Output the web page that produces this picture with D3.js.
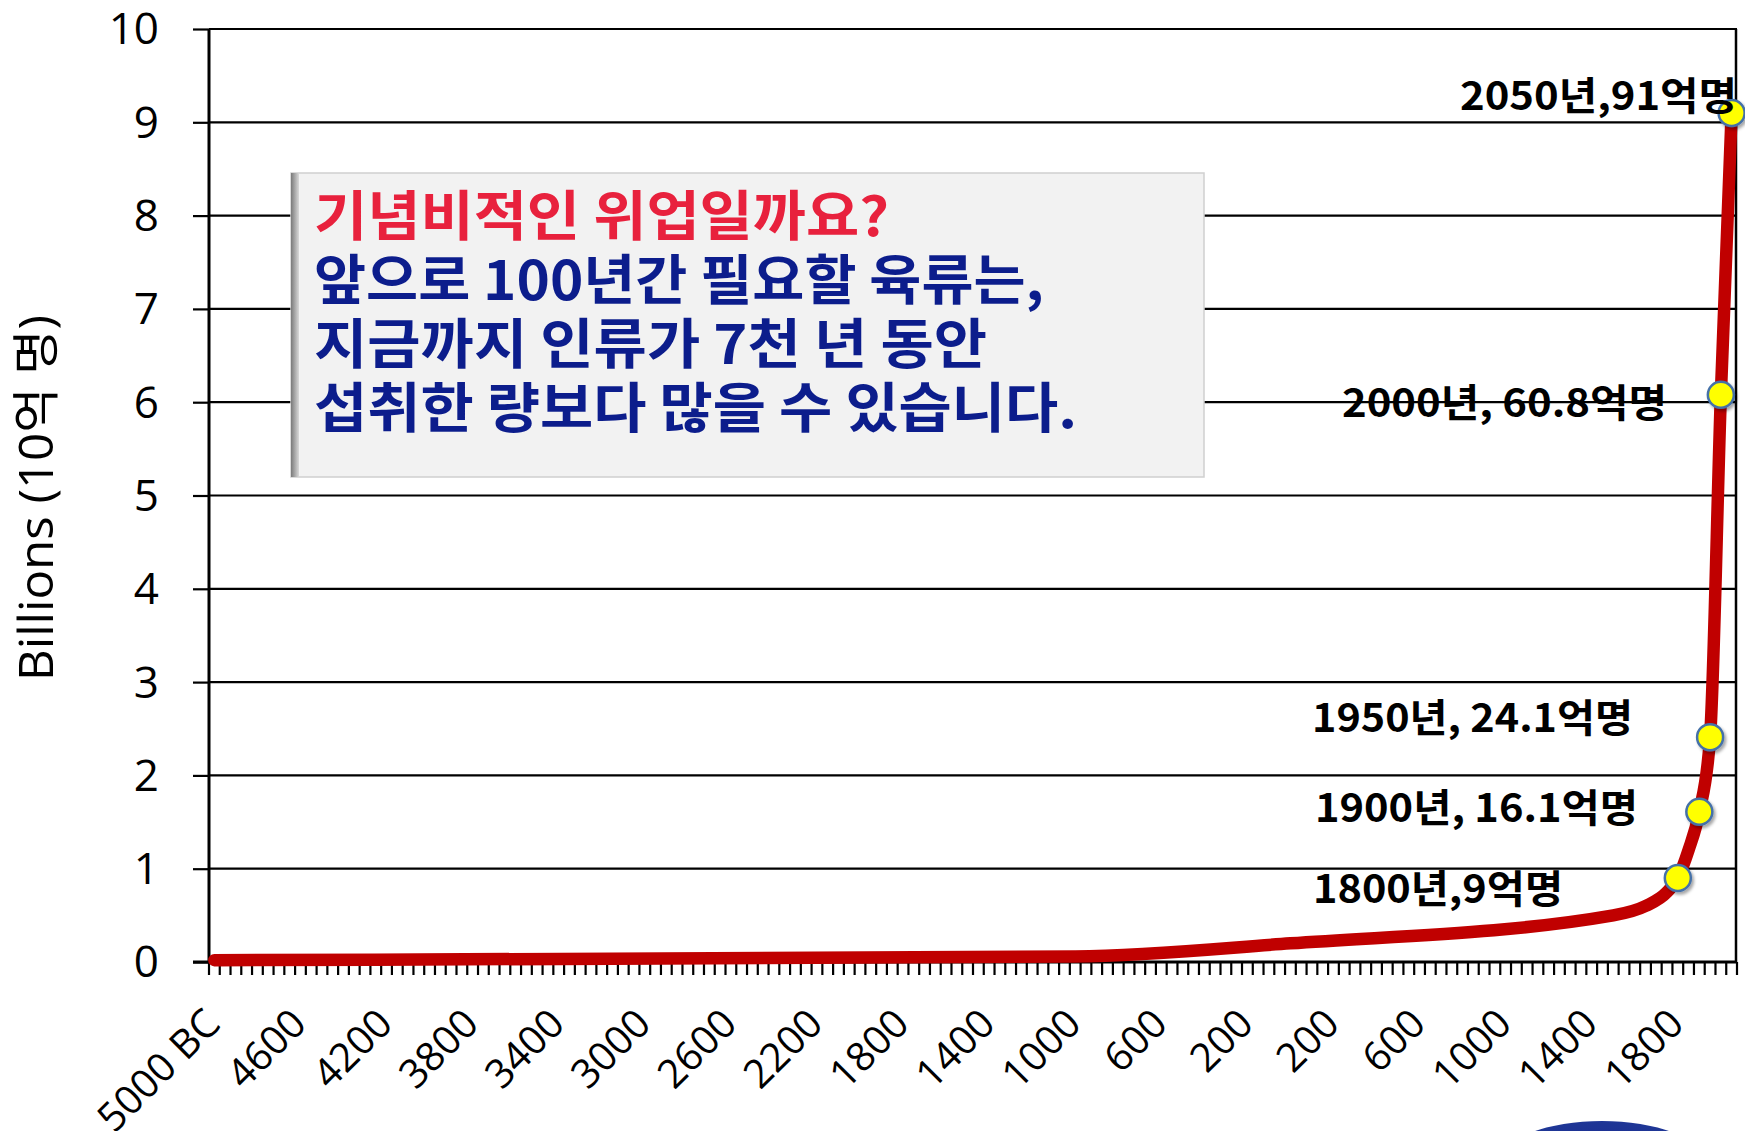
<!DOCTYPE html>
<html>
<head>
<meta charset="utf-8">
<script src="https://cdn.jsdelivr.net/npm/d3@7"></script>
<style>
  html, body { margin: 0; padding: 0; background: #ffffff; }
  svg { display: block; }
</style>
</head>
<body>
<svg id="chart" width="1745" height="1131"></svg>
<script>
// ---------- data ----------
// category axis: one category every 50 years, 5000 BC .. 2050
const categoryStart = -5000, categoryEnd = 2050, categoryStep = 50;
// labelled categories (every 400 years)
const tickYears  = [-5000,-4600,-4200,-3800,-3400,-3000,-2600,-2200,-1800,-1400,-1000,-600,-200,200,600,1000,1400,1800];
const tickLabels = ["5000 BC","4600","4200","3800","3400","3000","2600","2200","1800","1400","1000","600","200","200","600","1000","1400","1800"];
// population series (billions)
const seriesYears  = [-5000, -1000, 0,    1500, 1650, 1750, 1800, 1850, 1900, 1950, 2000, 2050];
const seriesValues = [0.02,  0.06,  0.2,  0.5,  0.6,  0.75, 0.9,  1.2,  1.61, 2.41, 6.08, 9.1];
// highlighted points
const markerYears  = [1800, 1900, 1950, 2000, 2050];
const markerValues = [0.9, 1.61, 2.41, 6.08, 9.1];
const markerLabels = ["1800년,9억명", "1900년, 16.1억명", "1950년, 24.1억명", "2000년, 60.8억명", "2050년,91억명"];
const yTicks = [0,1,2,3,4,5,6,7,8,9,10];
const yTitle = "Billions (10억 명)";
const boxTitle = "기념비적인 위업일까요?";
const boxLines = ["앞으로 100년간 필요할 육류는,", "지금까지 인류가 7천 년 동안", "섭취한 량보다 많을 수 있습니다."];

// ---------- layout ----------
const svg = d3.select("#chart");
const L = 209, R = 1737, T = 29, B = 962;
const categories = d3.range(categoryStart, categoryEnd + 1, categoryStep);
const x = d3.scaleBand().domain(categories).range([L, R]).padding(0);
const bw = x.bandwidth();
const xc = yr => x(yr) + bw / 2;
const y = d3.scaleLinear().domain([0, 10]).range([B, T]);

const latin = "'Open Sans', 'Noto Sans CJK KR', sans-serif";
const kr = "'Noto Sans CJK KR', 'Noto Sans', sans-serif";

const defs = svg.append("defs");
const sh = defs.append("filter").attr("id", "shadow").attr("x", "-50%").attr("y", "-50%").attr("width", "200%").attr("height", "200%");
sh.append("feDropShadow").attr("dx", 2).attr("dy", 2.5).attr("stdDeviation", 1.5).attr("flood-color", "#000").attr("flood-opacity", 0.35);
const lg = defs.append("linearGradient").attr("id", "leftEdge").attr("x1", "0").attr("x2", "1").attr("y1", "0").attr("y2", "0");
lg.append("stop").attr("offset", "0").attr("stop-color", "#7a7a7a");
lg.append("stop").attr("offset", "1").attr("stop-color", "#d9d9d9");
const rg = defs.append("radialGradient").attr("id", "blueBlob").attr("cx", "0.5").attr("cy", "0.3").attr("r", "0.6");
rg.append("stop").attr("offset", "0").attr("stop-color", "#1c2f93");
rg.append("stop").attr("offset", "0.85").attr("stop-color", "#203a97");
rg.append("stop").attr("offset", "1").attr("stop-color", "#6c7fc0");

// gridlines (1..10)
svg.append("g").selectAll("line").data(yTicks.filter(d => d > 0)).join("line")
  .attr("x1", L).attr("x2", R).attr("y1", d => y(d)).attr("y2", d => y(d))
  .attr("stroke", "#000").attr("stroke-width", 2.2);
// right border
svg.append("line").attr("x1", R - 1).attr("x2", R - 1).attr("y1", T).attr("y2", B)
  .attr("stroke", "#000").attr("stroke-width", 2.5);

// y axis
const yAxis = svg.append("g").attr("transform", `translate(${L},0)`)
  .call(d3.axisLeft(y).tickValues(yTicks).tickSize(16).tickPadding(34).tickFormat(d3.format("d")));
yAxis.select(".domain").attr("stroke", "#000").attr("stroke-width", 3).attr("d", `M0,${T}V${B}`);
yAxis.selectAll(".tick line").attr("stroke", "#000").attr("stroke-width", 2.2);
yAxis.selectAll(".tick text").attr("font-family", latin).attr("font-size", 44).attr("fill", "#000").attr("dy", "0.34em");

// x axis: tick marks at category boundaries
const edges = categories.map(c => x(c)).concat([R]);
svg.append("g").selectAll("line").data(edges).join("line")
  .attr("x1", d => d).attr("x2", d => d).attr("y1", B).attr("y2", B + 13)
  .attr("stroke", "#000").attr("stroke-width", 2.2);
svg.append("line").attr("x1", L - 16).attr("x2", R).attr("y1", B).attr("y2", B)
  .attr("stroke", "#000").attr("stroke-width", 3);
// x labels
svg.append("g").selectAll("text").data(tickYears).join("text")
  .attr("transform", d => `translate(${xc(d) + 8},${B + 64}) rotate(-45)`)
  .attr("text-anchor", "end")
  .attr("font-family", latin).attr("font-size", 40).attr("fill", "#000")
  .text((d, i) => tickLabels[i]);

// y title
svg.append("text")
  .attr("transform", `translate(53,498) rotate(-90)`)
  .attr("text-anchor", "middle")
  .attr("font-family", latin).attr("font-size", 48).attr("fill", "#000")
  .attr("textLength", 366).attr("lengthAdjust", "spacingAndGlyphs")
  .text(yTitle);

// text box
const box = svg.append("g");
box.append("rect").attr("x", 291).attr("y", 173).attr("width", 913).attr("height", 304)
  .attr("fill", "#f2f2f2").attr("stroke", "#cfcfcf").attr("stroke-width", 1.5);
box.append("rect").attr("x", 291).attr("y", 173).attr("width", 8).attr("height", 304)
  .attr("fill", "url(#leftEdge)");
const boxWidths = [575, 730, 673, 763];
const boxBase = [236, 300, 364, 428];
[boxTitle].concat(boxLines).forEach((t, i) => {
  box.append("text")
    .attr("x", 314).attr("y", boxBase[i])
    .attr("font-family", kr).attr("font-weight", 700).attr("font-size", 54)
    .attr("fill", i === 0 ? "#e8213d" : "#0c1d8c")
    .attr("textLength", boxWidths[i]).attr("lengthAdjust", "spacingAndGlyphs")
    .text(t);
});

// population line
const line = d3.line().x(d => xc(d[0])).y(d => y(d[1])).curve(d3.curveMonotoneX);
svg.append("path")
  .datum(seriesYears.map((yr, i) => [yr, seriesValues[i]]))
  .attr("d", line)
  .attr("fill", "none").attr("stroke", "#c00000").attr("stroke-width", 12.5)
  .attr("stroke-linejoin", "round").attr("stroke-linecap", "round");

// markers
svg.append("g").selectAll("circle").data(markerYears).join("circle")
  .attr("cx", d => xc(d)).attr("cy", (d, i) => y(markerValues[i])).attr("r", 13)
  .attr("fill", "#ffff00").attr("stroke", "#4471a8").attr("stroke-width", 2.5)
  .attr("filter", "url(#shadow)");

// point labels (right edge, baseline, width)
const labelPos = [[1563, 903, 250], [1638, 822, 323], [1633, 732, 321], [1667, 417, 325], [1737, 110, 277]];
svg.append("g").selectAll("text").data(markerLabels).join("text")
  .attr("x", (d, i) => labelPos[i][0]).attr("y", (d, i) => labelPos[i][1])
  .attr("text-anchor", "end")
  .attr("font-family", kr).attr("font-weight", 700).attr("font-size", 39).attr("fill", "#000")
  .attr("textLength", (d, i) => labelPos[i][2]).attr("lengthAdjust", "spacingAndGlyphs")
  .text(d => d);

// blue shape peeking at the bottom right
svg.append("ellipse").attr("cx", 1602).attr("cy", 1160).attr("rx", 100).attr("ry", 39)
  .attr("fill", "url(#blueBlob)");
</script>
</body>
</html>
